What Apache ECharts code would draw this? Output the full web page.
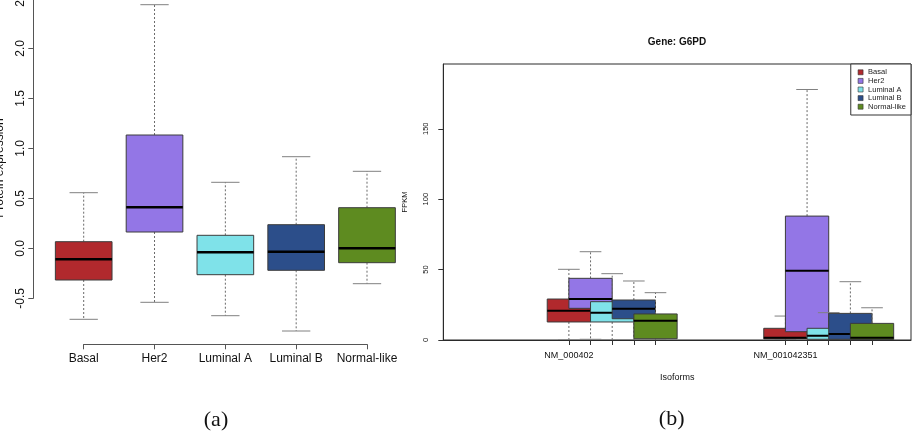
<!DOCTYPE html>
<html lang="en">
  <head>
    <meta charset="UTF-8" />
    <title>Protein expression and G6PD isoforms</title>
    <script src="https://cdn.jsdelivr.net/npm/echarts@6/dist/echarts.min.js"></script>
  </head>
  <body style="margin: 0; background: #fff">
    <div id="main" style="width: 916px; height: 442px"></div>
    <script type="text/javascript">
      var FONT = "Liberation Sans";

      var subtypes = ["Basal", "Her2", "Luminal A", "Luminal B", "Normal-like"];
      var subtypeColors = ["#b1292d", "#9376e6", "#7fe2e9", "#2c4e8a", "#5e8b20"];

      // (a) protein expression, [min, Q1, median, Q3, max] for each subtype
      var proteinBasal = [-0.71, -0.317, -0.11, 0.066, 0.556];
      var proteinHer2 = [-0.54, 0.163, 0.41, 1.133, 2.436];
      var proteinLumA = [-0.674, -0.264, -0.04, 0.13, 0.66];
      var proteinLumB = [-0.827, -0.22, -0.034, 0.236, 0.916];
      var proteinNormal = [-0.354, -0.144, 0.0, 0.406, 0.77];
      var proteinBoxes = [proteinBasal, proteinHer2, proteinLumA, proteinLumB, proteinNormal];

      // (b) G6PD FPKM by isoform, same [min, Q1, median, Q3, max] layout
      var isoforms = ["NM_000402", "NM_001042351"];
      var fpkmBasal = [[0, 12.8, 20.8, 29.1, 50.2], [0, 0.8, 1.6, 8.3, 17.0]];
      var fpkmHer2 = [[0.5, 22.5, 29.1, 43.8, 62.7], [0, 5.9, 49.2, 88.0, 177.9]];
      var fpkmLumA = [[0, 12.8, 19.4, 27.2, 47.1], [0, 0.5, 3.1, 8.3, 19.4]];
      var fpkmLumB = [[0, 15.1, 22.2, 28.4, 41.9], [0, 0.5, 4.3, 18.9, 41.4]];
      var fpkmNormal = [[0, 0.9, 13.7, 18.5, 33.6], [0, 0.3, 1.6, 11.8, 22.9]];
      var fpkmBySubtype = [fpkmBasal, fpkmHer2, fpkmLumA, fpkmLumB, fpkmNormal];
      var fpkmTicks = [0, 50, 100, 150];

      // box k of isoform g sits at 1 + 10*g + k on the x scale
      function slot(g, k) {
        return 1 + 10 * g + k;
      }
      var isoformSlots = [];
      var isoformLabelSlots = [];
      isoforms.forEach(function (name, g) {
        isoformLabelSlots.push(slot(g, 0));
        subtypes.forEach(function (s, k) {
          isoformSlots.push(slot(g, k));
        });
      });

      function boxRenderer(colorOf, boxW, capW, medianW) {
        return function (params, api) {
          var x = api.value(0);
          var lo = api.coord([x, api.value(1)]);
          var q1 = api.coord([x, api.value(2)]);
          var md = api.coord([x, api.value(3)]);
          var q3 = api.coord([x, api.value(4)]);
          var hi = api.coord([x, api.value(5)]);
          var cx = lo[0];
          var half = api.size([boxW, 0])[0] / 2;
          var cap = api.size([capW, 0])[0] / 2;
          var dash = { stroke: "#6a6a6a", lineWidth: 1, lineDash: [2, 2] };
          var staple = { stroke: "#808080", lineWidth: 1 };
          return {
            type: "group",
            children: [
              { type: "line", shape: { x1: cx, y1: q3[1], x2: cx, y2: hi[1] }, style: dash },
              { type: "line", shape: { x1: cx, y1: q1[1], x2: cx, y2: lo[1] }, style: dash },
              { type: "line", shape: { x1: cx - cap, y1: hi[1], x2: cx + cap, y2: hi[1] }, style: staple },
              { type: "line", shape: { x1: cx - cap, y1: lo[1], x2: cx + cap, y2: lo[1] }, style: staple },
              {
                type: "rect",
                shape: { x: cx - half, y: q3[1], width: half * 2, height: q1[1] - q3[1] },
                style: { fill: colorOf(params), stroke: "#3c3c3c", lineWidth: 1 },
              },
              {
                type: "line",
                shape: { x1: cx - half, y1: md[1], x2: cx + half, y2: md[1] },
                style: { stroke: "#000", lineWidth: medianW },
              },
            ],
          };
        };
      }

      var seriesList = [];

      seriesList.push({
        type: "custom",
        name: "Protein expression",
        xAxisIndex: 0,
        yAxisIndex: 0,
        encode: { x: 0, y: [1, 2, 3, 4, 5] },
        renderItem: boxRenderer(
          function (p) {
            return subtypeColors[p.dataIndex];
          },
          0.8,
          0.4,
          2.5
        ),
        data: proteinBoxes.map(function (b, i) {
          return [i + 1].concat(b);
        }),
      });

      subtypes.forEach(function (name, k) {
        seriesList.push({
          type: "custom",
          name: name,
          xAxisIndex: 1,
          yAxisIndex: 1,
          clip: true,
          itemStyle: { color: subtypeColors[k] },
          encode: { x: 0, y: [1, 2, 3, 4, 5] },
          renderItem: boxRenderer(
            function () {
              return subtypeColors[k];
            },
            2,
            1,
            2
          ),
          data: fpkmBySubtype[k].map(function (b, g) {
            return [slot(g, k)].concat(b);
          }),
        });
      });

      var axisText = { color: "#111", fontFamily: FONT };

      var option = {
        animation: false,
        backgroundColor: "#fff",
        grid: [
          { left: 83.7, right: 549, top: -1.7, bottom: 143.7, outerBoundsMode: "none", containLabel: false },
          {
            left: 443.3, right: 5, top: 64, bottom: 102,
            show: true, borderColor: "#2a2a2a", borderWidth: 1,
            outerBoundsMode: "none", containLabel: false,
          },
        ],
        xAxis: [
          {
            gridIndex: 0,
            type: "value",
            min: 1,
            max: 5,
            interval: 1,
            offset: 46,
            axisLine: { onZero: false, lineStyle: { color: "#555" } },
            axisTick: { length: 5, lineStyle: { color: "#555" } },
            axisLabel: Object.assign({ fontSize: 12, margin: 8, formatter: function (v) { return subtypes[v - 1]; } }, axisText),
            splitLine: { show: false },
          },
          {
            gridIndex: 1,
            type: "value",
            min: -4.8,
            max: 16.8,
            axisLine: { onZero: false, lineStyle: { color: "#2a2a2a" } },
            axisTick: { length: 5, customValues: isoformSlots, lineStyle: { color: "#333" } },
            axisLabel: Object.assign({
              fontSize: 9, margin: 11, customValues: isoformLabelSlots,
              formatter: function (v) { return isoforms[(v - 1) / 10]; },
            }, axisText),
            splitLine: { show: false },
            name: "Isoforms",
            nameLocation: "middle",
            nameGap: 33,
            nameTextStyle: { fontSize: 9, color: "#111", fontFamily: FONT },
          },
        ],
        yAxis: [
          {
            gridIndex: 0,
            type: "value",
            min: -0.5,
            max: 2.5,
            interval: 0.5,
            offset: 50.4,
            axisLine: { show: true, onZero: false, lineStyle: { color: "#555" } },
            axisTick: { show: true, length: 5, lineStyle: { color: "#555" } },
            axisLabel: Object.assign({ fontSize: 12, rotate: 90, margin: 7, formatter: function (v) { return v.toFixed(1); } }, axisText),
            splitLine: { show: false },
          },
          {
            gridIndex: 1,
            type: "value",
            min: 0,
            max: 196,
            axisLine: { show: true, onZero: false, lineStyle: { color: "#2a2a2a" } },
            axisTick: { show: true, length: 5, customValues: fpkmTicks, lineStyle: { color: "#333" } },
            axisLabel: Object.assign({ fontSize: 7.5, rotate: 90, margin: 13, customValues: fpkmTicks }, axisText),
            splitLine: { show: false },
            name: "FPKM",
            nameLocation: "middle",
            nameRotate: 90,
            nameGap: 34,
            nameTextStyle: { fontSize: 7.5, color: "#111", fontFamily: FONT },
          },
        ],
        legend: {
          data: subtypes,
          orient: "vertical",
          right: 5,
          top: 64,
          icon: "rect",
          itemWidth: 5,
          itemHeight: 5,
          itemGap: 0,
          padding: [4, 5, 4, 7],
          borderColor: "#333",
          borderWidth: 1,
          backgroundColor: "#fff",
          selectedMode: false,
          itemStyle: { borderColor: "#333", borderWidth: 0.6 },
          textStyle: { fontSize: 7.5, lineHeight: 8.6, color: "#222", fontFamily: FONT },
        },
        graphic: [
          {
            type: "text", x: -0.5, y: 168, rotation: Math.PI / 2,
            style: { text: "Protein expression", font: "12px " + FONT, fill: "#111", textAlign: "center", textVerticalAlign: "middle" },
          },
          {
            type: "text", x: 677, y: 42.7,
            style: { text: "Gene: G6PD", font: "bold 10px " + FONT, fill: "#111", textAlign: "center", textVerticalAlign: "middle" },
          },
          {
            type: "text", x: 216, y: 420,
            style: { text: "(a)", font: "22px Liberation Serif", fill: "#111", textAlign: "center", textVerticalAlign: "middle" },
          },
          {
            type: "text", x: 671.7, y: 419.3,
            style: { text: "(b)", font: "22px Liberation Serif", fill: "#111", textAlign: "center", textVerticalAlign: "middle" },
          },
        ],
        series: seriesList,
      };

      var myChart = echarts.init(document.getElementById("main"));
      myChart.setOption(option);
    </script>
  </body>
</html>
